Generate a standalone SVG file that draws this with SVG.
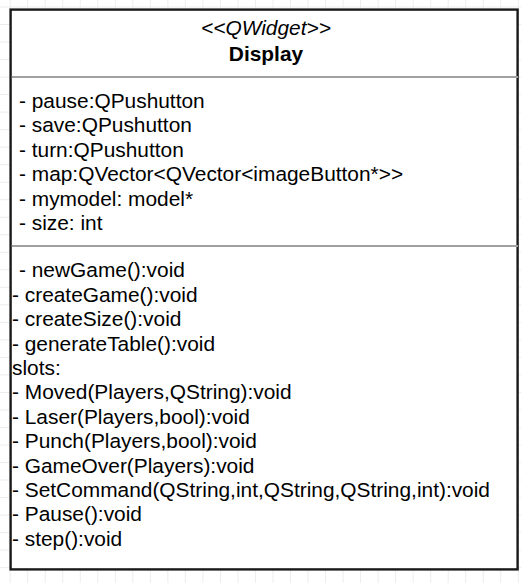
<svg xmlns="http://www.w3.org/2000/svg" width="521" height="583" viewBox="0 0 521 583">
<style>
.t{font-family:"Liberation Sans",Arial,sans-serif;font-size:20.88px;fill:#000}
.c{text-anchor:middle}
.i{font-style:italic}
.b{font-weight:bold}
.div{stroke:#a0a0a0;stroke-width:2}
</style>
<defs>
<pattern id="grid" width="17.52" height="17.52" patternUnits="userSpaceOnUse" x="9.7" y="6.5">
<path d="M0 0.5H17.52M0.5 0V17.52" fill="none" stroke="#ececec" stroke-width="1"/>
</pattern>
</defs>
<rect width="521" height="583" fill="#fff"/>
<rect width="521" height="583" fill="url(#grid)"/>
<g id="connectors"/>
<g id="Display">
<rect x="10.6" y="9.6" width="507" height="559.8" fill="#fff" stroke="#1a1a1a" stroke-width="2.4"/>
<line class="div" x1="11.8" y1="77" x2="518" y2="77"/>
<line class="div" x1="11.8" y1="246" x2="518" y2="246"/>
<text class="t c i" x="266" y="35">&lt;&lt;QWidget&gt;&gt;</text>
<text class="t c b" x="266" y="61">Display</text>
<text class="t" x="19" y="108">- pause:QPushutton</text>
<text class="t" x="19" y="132.4">- save:QPushutton</text>
<text class="t" x="19" y="156.8">- turn:QPushutton</text>
<text class="t" x="19" y="181.2">- map:QVector&lt;QVector&lt;imageButton*&gt;&gt;</text>
<text class="t" x="19" y="205.6">- mymodel: model*</text>
<text class="t" x="19" y="230">- size: int</text>
<text class="t" x="19" y="277.3">- newGame():void</text>
<text class="t" x="12" y="301.7">- createGame():void</text>
<text class="t" x="12" y="326.1">- createSize():void</text>
<text class="t" x="12" y="350.5">- generateTable():void</text>
<text class="t" x="12" y="374.9">slots:</text>
<text class="t" x="12" y="399.3">- Moved(Players,QString):void</text>
<text class="t" x="12" y="423.7">- Laser(Players,bool):void</text>
<text class="t" x="12" y="448.1">- Punch(Players,bool):void</text>
<text class="t" x="12" y="472.5">- GameOver(Players):void</text>
<text class="t" x="12" y="496.9">- SetCommand(QString,int,QString,QString,int):void</text>
<text class="t" x="12" y="521.3">- Pause():void</text>
<text class="t" x="12" y="545.7">- step():void</text>
</g>
</svg>
